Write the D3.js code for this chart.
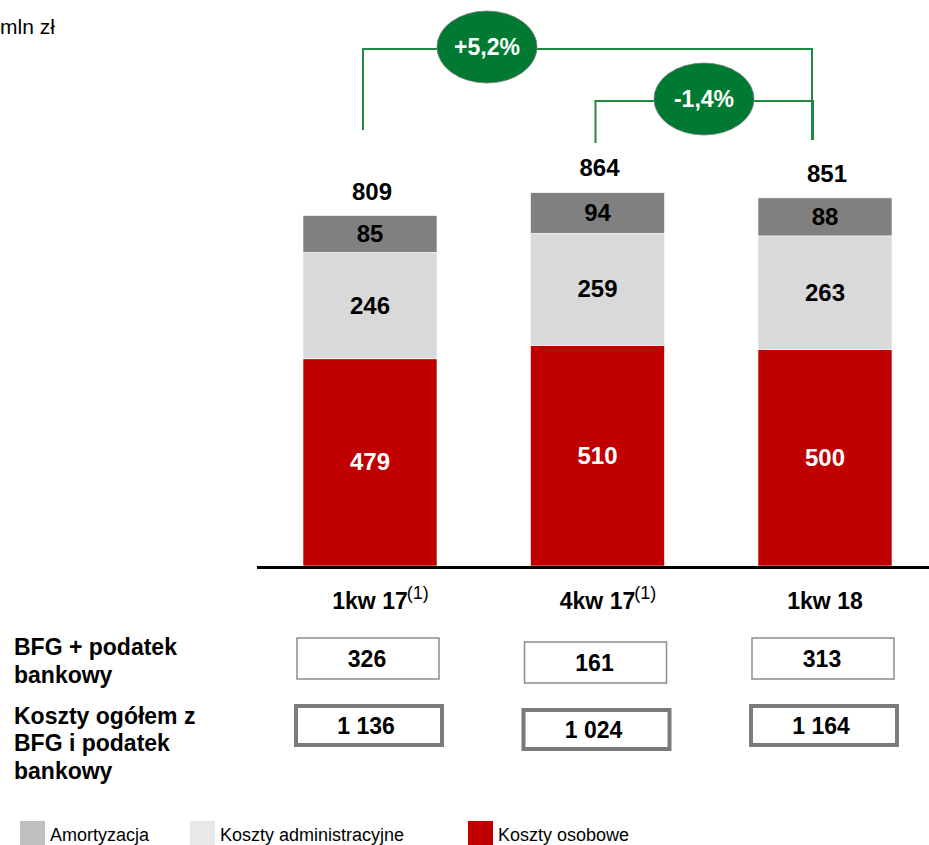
<!DOCTYPE html>
<html><head><meta charset="utf-8">
<script src="https://cdn.jsdelivr.net/npm/d3@7"></script>
<style>body{margin:0;background:#fff}svg{display:block}text{font-family:"Liberation Sans",Arial,sans-serif}</style>
</head><body><svg id="c" width="929" height="845"></svg>
<script>
const categories = ["1kw 17", "4kw 17", "1kw 18"];
const footnotes = ["(1)", "(1)", ""];
const osobowe = [479, 510, 500];
const administracyjne = [246, 259, 263];
const amortyzacja = [85, 94, 88];
const totals = [809, 864, 851];
const bfg = [326, 161, 313];
const kosztyOgolem = ["1 136", "1 024", "1 164"];
const changes = [{label: "+5,2%", from: 0, to: 2}, {label: "-1,4%", from: 1, to: 2}];
const seriesNames = ["Amortyzacja", "Koszty administracyjne", "Koszty osobowe"];

const svg = d3.select("#c");
const green = "#007a33", lineGreen = "#1f8a3f";
const barColors = {osobowe: "#c00000", administracyjne: "#d9d9d9", amortyzacja: "#808080"};
const legendColors = ["#bfbfbf", "#e8e8e8", "#c00000"];

const x = d3.scalePoint().domain(categories).range([370, 825]);
const y = d3.scaleLinear().domain([0, 1000]).range([566, 133.4]);
const bw = 134;

const data = categories.map((c, i) => ({cat: c, osobowe: osobowe[i], administracyjne: administracyjne[i], amortyzacja: amortyzacja[i], total: totals[i]}));
const keys = ["osobowe", "administracyjne", "amortyzacja"];
const stack = d3.stack().keys(keys)(data);

svg.append("text").attr("x", 0).attr("y", 34).attr("font-size", 21)
  .attr("font-family", "'Open Sans', 'Liberation Sans', sans-serif").text("mln zł");

stack.forEach(layer => {
  const k = layer.key;
  const g = svg.append("g");
  g.selectAll("rect").data(layer).join("rect")
    .attr("x", d => x(d.data.cat) - bw / 2).attr("width", bw)
    .attr("y", d => y(d[1])).attr("height", d => y(d[0]) - y(d[1]))
    .attr("fill", barColors[k]).attr("stroke", "#fff").attr("stroke-width", 0.6);
  g.selectAll("text").data(layer).join("text")
    .attr("x", d => x(d.data.cat)).attr("y", d => (y(d[0]) + y(d[1])) / 2 + 8)
    .attr("text-anchor", "middle").attr("font-size", 24).attr("font-weight", "bold")
    .attr("fill", k === "osobowe" ? "#fff" : "#000")
    .text(d => d.data[k]);
});

// totals
svg.selectAll(".tot").data(data).join("text").attr("class", "tot")
  .attr("x", d => x(d.cat) + 2).attr("y", d => y(d.total) - 16)
  .attr("text-anchor", "middle").attr("font-size", 24).attr("font-weight", "bold")
  .text(d => d.total);

// baseline
svg.append("line").attr("x1", 257).attr("x2", 929).attr("y1", y(0) + 1.5).attr("y2", y(0) + 1.5)
  .attr("stroke", "#000").attr("stroke-width", 3);

// category labels
categories.forEach((c, i) => {
  const t = svg.append("text").attr("x", x(c)).attr("y", 609).attr("text-anchor", "middle")
    .attr("font-size", 23).attr("font-weight", "bold").text(c);
  if (footnotes[i]) {
    const w = t.node().getComputedTextLength();
    svg.append("text").attr("x", x(c) + w / 2 - 1).attr("y", 599).attr("font-size", 18)
      .text(footnotes[i]);
  }
});

// brackets
const bracketY = [49, 101];
const leftEnd = [130, 143];
const rightEnd = [140, 140];
changes.forEach((ch, i) => {
  const x1 = x(categories[ch.from]) - 7 - (i === 1 ? -5 : 0);
  const x2 = x(categories[ch.to]) - 13 + i;
  svg.append("path")
    .attr("d", `M${x1},${leftEnd[i]}V${bracketY[i]}H${x2}V${rightEnd[i]}`)
    .attr("fill", "none").attr("stroke", lineGreen).attr("stroke-width", 2);
});
const ellX = [487, 704];
changes.forEach((ch, i) => {
  svg.append("ellipse").attr("cx", ellX[i]).attr("cy", bracketY[i] - 2).attr("rx", 50).attr("ry", 36)
    .attr("fill", green).attr("stroke", "#777").attr("stroke-width", 0.8);
  svg.append("text").attr("x", ellX[i]).attr("y", bracketY[i] + 6).attr("text-anchor", "middle")
    .attr("font-size", 23).attr("font-weight", "bold").attr("fill", "#fff").text(ch.label);
});

// left labels
const leftLabels = [["BFG + podatek", 655], ["bankowy", 683], ["Koszty ogółem z", 724], ["BFG i podatek", 751], ["bankowy", 779]];
leftLabels.forEach(([t, yy]) => svg.append("text").attr("x", 14).attr("y", yy)
  .attr("font-size", 23).attr("font-weight", "bold").text(t));

// boxes
const boxOffset = [0, 4, 0];
categories.forEach((c, i) => {
  const cx = x(c);
  svg.append("rect").attr("x", cx - 73).attr("y", 638 + boxOffset[i]).attr("width", 142).attr("height", 41)
    .attr("fill", "#fff").attr("stroke", "#8c8c8c").attr("stroke-width", 1.5);
  svg.append("text").attr("x", cx - 3).attr("y", 667 + boxOffset[i]).attr("text-anchor", "middle")
    .attr("font-size", 23).attr("font-weight", "bold").text(bfg[i]);
  svg.append("rect").attr("x", cx - 74).attr("y", 706 + boxOffset[i]).attr("width", 146).attr("height", 39)
    .attr("fill", "#fff").attr("stroke", "#7a7a7a").attr("stroke-width", 4);
  svg.append("text").attr("x", cx - 4).attr("y", 734 + boxOffset[i]).attr("text-anchor", "middle")
    .attr("font-size", 23).attr("font-weight", "bold").text(kosztyOgolem[i]);
});

// legend
const legX = [20, 190, 468];
seriesNames.forEach((n, i) => {
  svg.append("rect").attr("x", legX[i]).attr("y", 821).attr("width", 25).attr("height", 24).attr("fill", legendColors[i]);
  svg.append("text").attr("x", legX[i] + 30).attr("y", 841).attr("font-size", 18).text(n);
});
</script></body></html>
